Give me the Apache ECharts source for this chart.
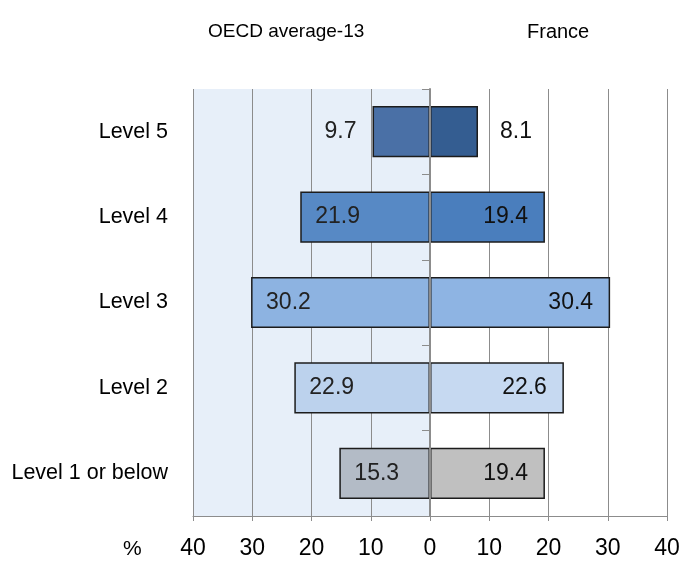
<!DOCTYPE html>
<html>
<head>
<meta charset="utf-8">
<script src="https://cdn.jsdelivr.net/npm/echarts@6/dist/echarts.min.js"></script>
<style>
  html, body { margin: 0; padding: 0; background: #fff; }
  #chart { width: 680px; height: 561px; }
</style>
</head>
<body>
<div id="chart"></div>
<script>
// 数据
var levels = ["Level 5", "Level 4", "Level 3", "Level 2", "Level 1 or below"];
var oecdValues = [9.7, 21.9, 30.2, 22.9, 15.3];
var franceValues = [8.1, 19.4, 30.4, 22.6, 19.4];
var xTicks = [-40, -30, -20, -10, 0, 10, 20, 30, 40];

// 颜色
var oecdColors = ["#4a70a6", "#5789c5", "#8db3e1", "#bcd2ed", "#b3bbc6"];
var franceColors = ["#345d91", "#4a7ebd", "#8eb4e3", "#c6d9f1", "#c0c0c0"];

var font = "'Liberation Sans', Arial, sans-serif";

var chart = echarts.init(document.getElementById("chart"));

var oecdData = oecdValues.map(function (v, i) {
  return {
    value: -v,
    itemStyle: { color: oecdColors[i] },
    label: v < 12 ? { position: "left", distance: 16 } : { position: "insideLeft", distance: 15 }
  };
});
var franceData = franceValues.map(function (v, i) {
  return {
    value: v,
    itemStyle: { color: franceColors[i] },
    label: v < 12 ? { position: "right", distance: 22 } : { position: "insideRight", distance: 17 }
  };
});

var option = {
  animation: false,
  textStyle: { fontFamily: font },
  title: [
    { text: "OECD average-13", left: 203, top: 17, textStyle: { fontFamily: font, fontSize: 19, fontWeight: "normal", color: "#000" } },
    { text: "France", left: 522, top: 17, textStyle: { fontFamily: font, fontSize: 20, fontWeight: "normal", color: "#000" } }
  ],
  graphic: [
    { type: "text", left: 123, top: 539, style: { text: "%", font: "21px " + font, fill: "#000" } }
  ],
  grid: { left: 193, right: 13, top: 89, bottom: 45, outerBoundsMode: "none", containLabel: false },
  xAxis: {
    type: "value",
    min: xTicks[0],
    max: xTicks[xTicks.length - 1],
    interval: 10,
    axisLine: { show: true, lineStyle: { color: "#8c8c8c", width: 1 } },
    axisTick: { show: true, length: 5, lineStyle: { color: "#8c8c8c" } },
    splitLine: { show: true, lineStyle: { color: "#8c8c8c", width: 1 } },
    axisLabel: {
      fontSize: 23, color: "#000", margin: 21, fontFamily: font,
      formatter: function (v) { return Math.abs(v); }
    }
  },
  yAxis: [
    {
      type: "category",
      inverse: true,
      data: levels,
      axisLine: { show: false },
      axisTick: { show: false },
      axisLabel: { fontSize: 21.5, color: "#000", margin: 25, fontFamily: font }
    },
    {
      type: "category",
      inverse: true,
      data: levels,
      position: "left",
      offset: -237,
      z: 5,
      axisLine: { show: true, onZero: false, lineStyle: { color: "#8c8c8c", width: 2 } },
      axisTick: { show: true, length: 8, lineStyle: { color: "#8c8c8c" } },
      axisLabel: { show: false }
    }
  ],
  series: [
    {
      name: "OECD average-13",
      type: "bar",
      stack: "total",
      barWidth: "60%",
      data: oecdData,
      itemStyle: { borderColor: "#1c1c1c", borderWidth: 1.5 },
      label: {
        show: true, fontSize: 23, color: "#222", fontFamily: font,
        formatter: function (p) { return Math.abs(p.value).toFixed(1); }
      },
      markArea: {
        silent: true,
        z: -1,
        itemStyle: { color: "rgba(196, 214, 240, 0.4)" },
        data: [[{ xAxis: -40 }, { xAxis: 0 }]]
      }
    },
    {
      name: "France",
      type: "bar",
      stack: "total",
      barWidth: "60%",
      data: franceData,
      itemStyle: { borderColor: "#1c1c1c", borderWidth: 1.5 },
      label: {
        show: true, fontSize: 23, color: "#111", fontFamily: font,
        formatter: function (p) { return p.value.toFixed(1); }
      }
    }
  ]
};

chart.setOption(option);
</script>
</body>
</html>
